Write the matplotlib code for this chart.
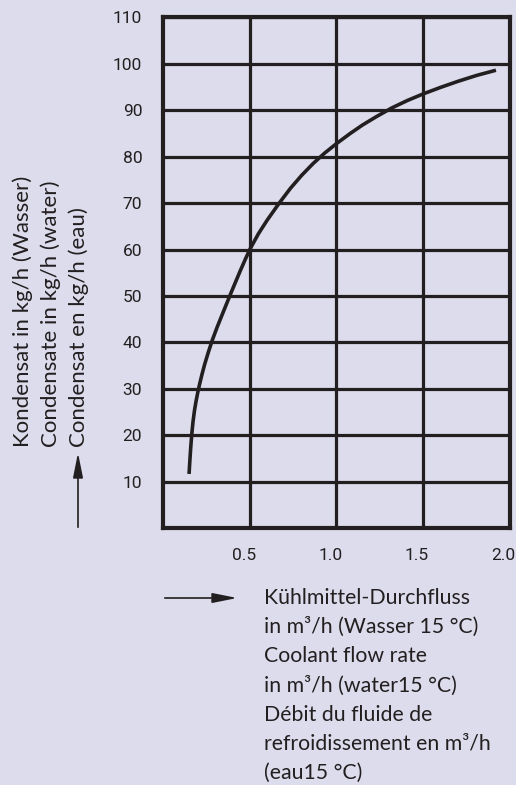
import matplotlib.pyplot as plt
from matplotlib.transforms import ScaledTranslation

# Kühlmittel-Durchfluss (m³/h) vs Kondensat (kg/h)
flow = [0.150, 0.155, 0.160, 0.166, 0.173, 0.181, 0.190, 0.200, 0.210, 0.225,
        0.240, 0.262, 0.285, 0.312, 0.340, 0.365, 0.390, 0.418, 0.445, 0.472,
        0.500, 0.55, 0.60, 0.67, 0.735, 0.80, 0.865, 0.93, 1.00, 1.08,
        1.15, 1.23, 1.32, 1.41, 1.50, 1.60, 1.70, 1.81, 1.92]
condensate = [11.7, 14.8, 17.6, 20.4, 23.0, 25.3, 27.3, 29.2, 30.9, 33.2,
              35.3, 38.0, 40.6, 43.3, 45.9, 48.2, 50.5, 53.0, 55.4, 57.7,
              60.0, 63.4, 66.3, 70.0, 73.2, 76.0, 78.5, 80.7, 82.8, 85.0,
              86.8, 88.6, 90.5, 92.1, 93.5, 94.9, 96.2, 97.5, 98.6]

x_ticks = [0.5, 1.0, 1.5, 2.0]
y_ticks = [10, 20, 30, 40, 50, 60, 70, 80, 90, 100, 110]

bg = '#dcdcec'
ink = '#231f20'
text_font = ['Lato', 'DejaVu Sans']
tick_font = ['Liberation Sans Narrow', 'Roboto', 'DejaVu Sans']

fig = plt.figure(figsize=(5.16, 7.85), dpi=100, facecolor=bg)
ax = fig.add_axes([0.316, 0.327, 0.672, 0.651])
ax.set_facecolor(bg)

ax.plot(flow, condensate, color=ink, lw=2.6, solid_capstyle='butt', zorder=3)

ax.set_xlim(0, 2.0)
ax.set_ylim(0, 110)
ax.set_xticks(x_ticks)
ax.set_xticklabels(['0.5', '1.0', '1.5', '2.0'], family=tick_font, fontsize=12.5, color=ink)
ax.set_yticks(y_ticks)
ax.set_yticklabels([str(v) for v in y_ticks], family=tick_font, fontsize=12.5, color=ink)
ax.tick_params(length=0, pad=15)
ax.tick_params(axis='x', pad=14)
shift = ScaledTranslation(-6 / 100, 0, fig.dpi_scale_trans)
for lbl in ax.get_xticklabels():
    lbl.set_transform(lbl.get_transform() + shift)
ax.grid(True, color=ink, lw=2.3)
for s in ax.spines.values():
    s.set_color(ink)
    s.set_linewidth(3)

# y-axis label, three languages
ylines = ['Kondensat in kg/h (Wasser)', 'Condensate in kg/h (water)', 'Condensat en kg/h (eau)']
for i, t in enumerate(ylines):
    fig.text(23 / 516 + i * 28 / 516, 1 - 447 / 785, t, rotation=90, ha='center', va='bottom',
             family=text_font, fontsize=16, color=ink)
ax.annotate('', xy=(78 / 516, 1 - 450 / 785), xytext=(78 / 516, 1 - 530 / 785),
            xycoords='figure fraction', textcoords='figure fraction',
            arrowprops=dict(arrowstyle='-|>,head_length=1.5,head_width=0.3', color=ink, lw=1.2))

# x-axis label
xlines = ['Kühlmittel-Durchfluss', 'in m³/h (Wasser 15 °C)', 'Coolant flow rate',
          'in m³/h (water15 °C)', 'Débit du fluide de', 'refroidissement en m³/h', '(eau15 °C)']
for i, t in enumerate(xlines):
    fig.text(264 / 516, 1 - (598 + i * 29.2) / 785, t, ha='left', va='center',
             family=text_font, fontsize=15.3, color=ink)
ax.annotate('', xy=(240 / 516, 1 - 598 / 785), xytext=(162 / 516, 1 - 598 / 785),
            xycoords='figure fraction', textcoords='figure fraction',
            arrowprops=dict(arrowstyle='-|>,head_length=1.5,head_width=0.3', color=ink, lw=1.2))

fig.savefig('out.png', dpi=100, facecolor=bg)
